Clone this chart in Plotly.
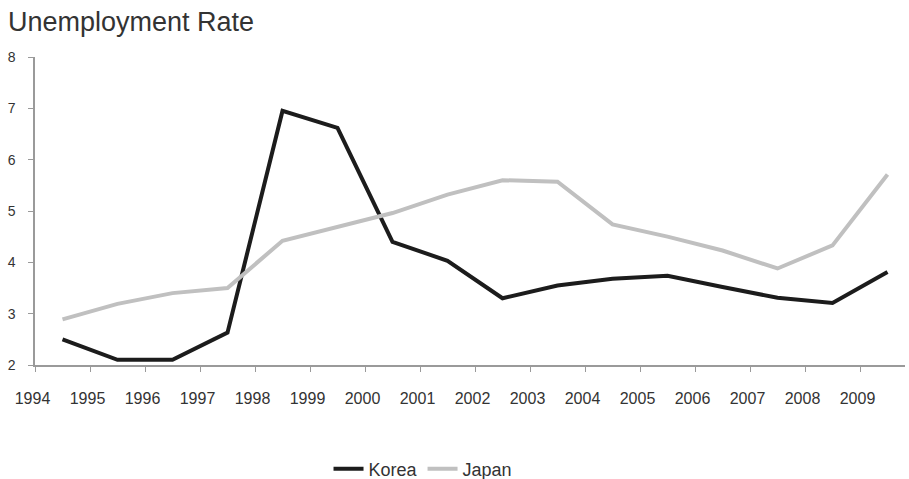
import plotly.graph_objects as go

years = ["1994", "1995", "1996", "1997", "1998", "1999", "2000", "2001",
         "2002", "2003", "2004", "2005", "2006", "2007", "2008", "2009"]
korea = [2.5, 2.1, 2.1, 2.63, 6.95, 6.62, 4.4, 4.03, 3.3, 3.55, 3.68, 3.74, 3.52, 3.31, 3.21, 3.81]
japan = [2.89, 3.19, 3.4, 3.5, 4.42, 4.7, 4.96, 5.32, 5.6, 5.57, 4.74, 4.5, 4.23, 3.88, 4.33, 5.71]
y_ticks = [2, 3, 4, 5, 6, 7, 8]

FONT = "Liberation Sans, Arial, sans-serif"
TXT = "#333333"
AX = "#9a9a9a"

fig = go.Figure()
fig.add_trace(go.Scatter(x=years, y=korea, mode="lines", name="Korea",
                         line=dict(color="#1c1c1c", width=4)))
fig.add_trace(go.Scatter(x=years, y=japan, mode="lines", name="Japan",
                         line=dict(color="#c0c0c0", width=4)))

fig.update_layout(
    width=909, height=479,
    margin=dict(l=35, r=4, t=57, b=114, autoexpand=False),
    paper_bgcolor="white", plot_bgcolor="white",
    font=dict(family=FONT, color=TXT),
    title=dict(text="Unemployment Rate", x=8 / 909, xanchor="left",
               y=1 - 22 / 479, yanchor="middle", yref="container",
               font=dict(size=27, color=TXT, family=FONT)),
    showlegend=True,
    legend=dict(orientation="h", x=0.446, xanchor="center",
                yref="container", y=10 / 479, yanchor="middle",
                font=dict(size=18, color=TXT, family=FONT),
                itemwidth=30, tracegroupgap=0),
    xaxis=dict(type="category", range=[-0.5, 15.318],
               tickson="boundaries", ticks="outside", ticklen=5,
               tickcolor=AX, showline=True, linecolor=AX, linewidth=1.5,
               showgrid=False, zeroline=False, automargin=False,
               tickfont=dict(size=16, color=TXT, family=FONT),
               ticklabelshift=-30, ticklabelstandoff=18),
    yaxis=dict(range=[2, 8], tickvals=y_ticks, ticks="outside", ticklen=5,
               tickcolor=AX, showline=True, linecolor=AX, linewidth=1.5,
               showgrid=False, zeroline=False, automargin=False,
               tickfont=dict(size=14, color=TXT, family=FONT),
               ticklabelstandoff=10),
)

fig.write_html("out.html")
